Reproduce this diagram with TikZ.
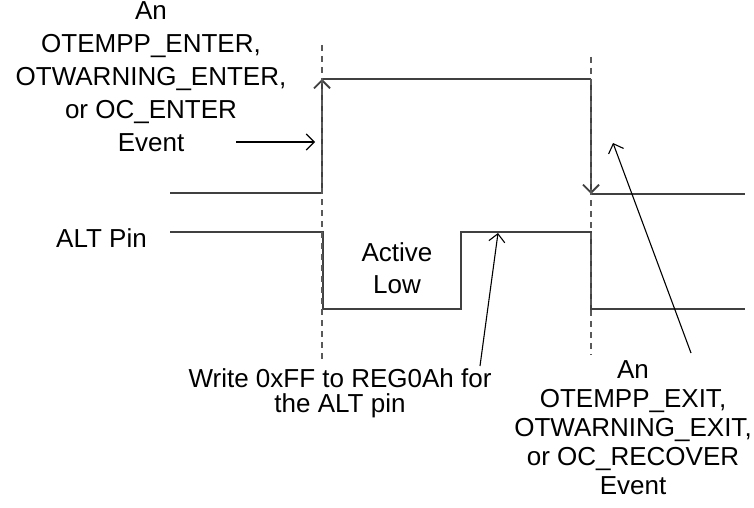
\documentclass[tikz,border=0pt]{standalone}
\usepackage{fontspec}
\setmainfont{Liberation Sans}
\usetikzlibrary{arrows.meta}

\begin{document}
\begin{tikzpicture}[
  x=1pt, y=-1pt,
  every node/.style={inner sep=0pt, text=black},
  lbl/.style={align=center, font=\fontsize{26}{33}\selectfont},
  sig/.style={draw=black!75, line width=1.8pt},
  guide/.style={draw=black!65, line width=1.2pt, dash pattern=on 6pt off 5pt},
  note/.style={draw=black, line width=1.1pt},
  barb/.style={-{Straight Barb[length=8pt, width=16pt]}},
]
\useasboundingbox (0,0) rectangle (754,508);

% Event trace (top)
\coordinate (e0) at (170,193);
\coordinate (e1) at (322,193);
\coordinate (e2) at (322,79);
\coordinate (e3) at (591,79);
\coordinate (e4) at (591,194);
\coordinate (e5) at (745,194);
\draw[sig] (e0) -- (e1);
\draw[sig, barb] (e1) -- (e2);
\draw[sig] (e2) -- (e3);
\draw[sig, barb] (e3) -- (e4);
\draw[sig] (e4) -- (e5);

% ALT pin trace (bottom)
\coordinate (a0) at (170,232);
\coordinate (a1) at (323,232);
\coordinate (a2) at (323,309);
\coordinate (a3) at (461,309);
\coordinate (a4) at (461,232);
\coordinate (a5) at (591,232);
\coordinate (a6) at (591,309);
\coordinate (a7) at (745,309);
\draw[sig] (a0) -- (a1) -- (a2) -- (a3) -- (a4) -- (a5) -- (a6) -- (a7);

% Dashed guides
\coordinate (g1t) at (322,45);
\coordinate (g1b) at (322,360);
\coordinate (g2t) at (591,57);
\coordinate (g2b) at (591,355);
\draw[guide] (g1t) -- (g1b);
\draw[guide] (g2t) -- (g2b);

% Labels
\node[lbl] (enter) at (151,77)
  {An\\ OTEMPP\_ENTER,\\ OTWARNING\_ENTER,\\ or OC\_ENTER\\ Event};
\node[lbl, anchor=base east] (altpin) at (147,247) {ALT Pin};
\node[lbl, font=\fontsize{26}{32}\selectfont] (active) at (397,268.5) {Active\\ Low};
\node[lbl, font=\fontsize{26}{25}\selectfont] (write) at (340,393)
  {Write 0xFF to REG0Ah for\\ the ALT pin};
\node[lbl, font=\fontsize{26}{29}\selectfont] (exit) at (633,428)
  {An\\ OTEMPP\_EXIT,\\ OTWARNING\_EXIT,\\ or OC\_RECOVER\\ Event};

% Pointer arrows
\coordinate (p1s) at (236,142);
\coordinate (p1e) at (315,142);
\coordinate (p2s) at (480,366);
\coordinate (p2e) at (498,233);
\coordinate (p3s) at (691,353);
\coordinate (p3e) at (613,143);
\draw[note, barb] (p1s) -- (p1e);
\draw[note, barb] (p2s) -- (p2e);
\draw[note, barb] (p3s) -- (p3e);
\end{tikzpicture}
\end{document}
